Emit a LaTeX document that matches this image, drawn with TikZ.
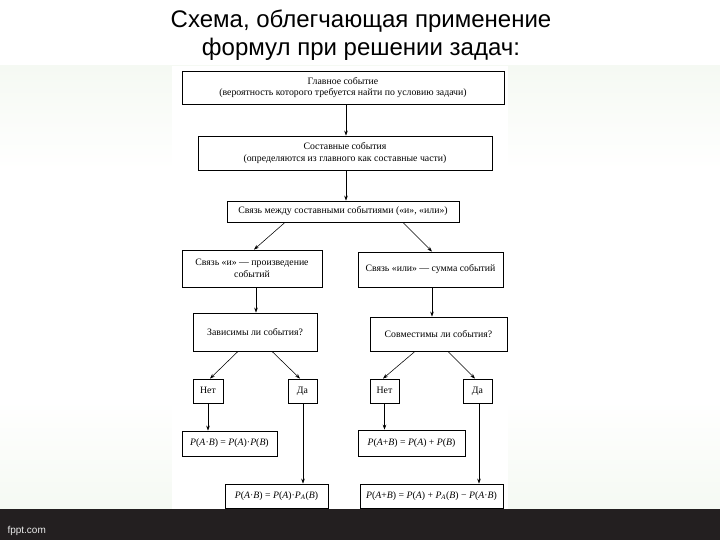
\documentclass[tikz,border=0pt]{standalone}
\usepackage{fontspec}
\setmainfont{Liberation Serif}
\newfontfamily\titlefont{Liberation Sans}
\usetikzlibrary{arrows.meta}
\definecolor{barcol}{RGB}{35,31,32}
\definecolor{tint}{RGB}{245,249,243}
\tikzset{
  box/.style={draw=black, line width=0.8pt, fill=white, inner sep=0pt, align=center,
    font=\fontsize{9.8}{11.5}\selectfont},
  small/.style={box, text height=1.6ex, text depth=0.3ex},
  arr/.style={draw=black, line width=0.55pt, -{Stealth[length=5pt,width=3.6pt]}},
}
\newcommand{\fml}[1]{\textit{#1}}
\begin{document}
\begin{tikzpicture}[x=1pt,y=-1pt]
\useasboundingbox (0,0) rectangle (720,540);
\fill[white] (0,0) rectangle (720,540);
% faint background bands
\shade[top color=tint, bottom color=white] (0,66) rectangle (720,170);
\shade[top color=white, bottom color=tint] (0,400) rectangle (720,509);
\fill[white] (172,66) rectangle (508,509);
% bottom bar
\fill[barcol] (0,509) rectangle (720,540);
\node[anchor=west, text=white!92!black, font=\titlefont\fontsize{10}{12}\selectfont] (fppt) at (4,531) {fppt.com};
% title
\node[align=center, font=\titlefont\fontsize{24}{28}\selectfont] (title) at (361,35)
  {Схема, облегчающая применение\\формул при решении задач:};
% boxes
\node[box, minimum width=322pt, minimum height=33pt] (b1) at (343,87.5)
  {Главное событие\\(вероятность которого требуется найти по условию задачи)};
\node[box, minimum width=294pt, minimum height=34pt] (b2) at (345,153)
  {Составные события\\(определяются из главного как составные части)};
\node[box, minimum width=232pt, minimum height=21pt] (b3) at (343,211.5)
  {Связь между составными событиями («и», «или»)};
\node[box, minimum width=140pt, minimum height=37pt] (b4) at (252,268.5)
  {Связь «и» — произведение\\событий};
\node[box, minimum width=145pt, minimum height=35pt] (b5) at (430.5,269.5)
  {Связь «или» — сумма событий};
\node[box, minimum width=124pt, minimum height=38pt] (b6) at (255,332)
  {Зависимы ли события?};
\node[box, minimum width=137pt, minimum height=34pt] (b7) at (438.5,334)
  {Совместимы ли события?};
\node[small, minimum width=30pt, minimum height=24pt] (n1) at (208,391) {Нет};
\node[small, minimum width=29pt, minimum height=24pt] (d1) at (302.5,391) {Да};
\node[small, minimum width=29pt, minimum height=24pt] (n2) at (384.5,391) {Нет};
\node[small, minimum width=29pt, minimum height=24pt] (d2) at (477.5,391) {Да};
\node[box, minimum width=95pt, minimum height=25pt] (f1) at (229.5,443.5)
  {\fml{P}(\fml{A}·\fml{B}) = \fml{P}(\fml{A})·\fml{P}(\fml{B})};
\node[box, minimum width=107pt, minimum height=26pt] (f3) at (411.5,443)
  {\fml{P}(\fml{A}+\fml{B}) = \fml{P}(\fml{A}) + \fml{P}(\fml{B})};
\node[box, minimum width=103pt, minimum height=24pt] (f2) at (276.5,496)
  {\fml{P}(\fml{A}·\fml{B}) = \fml{P}(\fml{A})·\fml{P}\textsubscript{\fml{A}}(\fml{B})};
\node[box, minimum width=143pt, minimum height=24pt] (f4) at (431.5,496)
  {\fml{P}(\fml{A}+\fml{B}) = \fml{P}(\fml{A}) + \fml{P}\textsubscript{\fml{A}}(\fml{B}) − \fml{P}(\fml{A}·\fml{B})};
% connectors
\draw[arr] ([xshift=3pt]b1.south) -- ([xshift=1pt]b2.north);
\draw[arr] ([xshift=1pt]b2.south) -- ([xshift=3pt]b3.north);
\draw[arr] ([xshift=-58pt]b3.south) -- ([xshift=2pt]b4.north);
\draw[arr] ([xshift=60pt]b3.south) -- ([xshift=1.5pt]b5.north);
\draw[arr] ([xshift=4pt]b4.south) -- ([xshift=1pt]b6.north);
\draw[arr] ([xshift=1.5pt]b5.south) -- ([xshift=-6.5pt]b7.north);
\draw[arr] ([xshift=-17pt]b6.south) -- ([xshift=2pt]n1.north);
\draw[arr] ([xshift=17pt]b6.south) -- ([xshift=-2.5pt]d1.north);
\draw[arr] ([xshift=-23.5pt]b7.south) -- ([xshift=-1.5pt]n2.north);
\draw[arr] ([xshift=9.5pt]b7.south) -- ([xshift=-2.5pt]d2.north);
\draw[arr] (n1.south) -- ([xshift=-21.5pt]f1.north);
\draw[arr] ([xshift=0.5pt]d1.south) -- ([xshift=26.5pt]f2.north);
\draw[arr] (n2.south) -- ([xshift=-27pt]f3.north);
\draw[arr] ([xshift=1.5pt]d2.south) -- ([xshift=47.5pt]f4.north);
\end{tikzpicture}
\end{document}
